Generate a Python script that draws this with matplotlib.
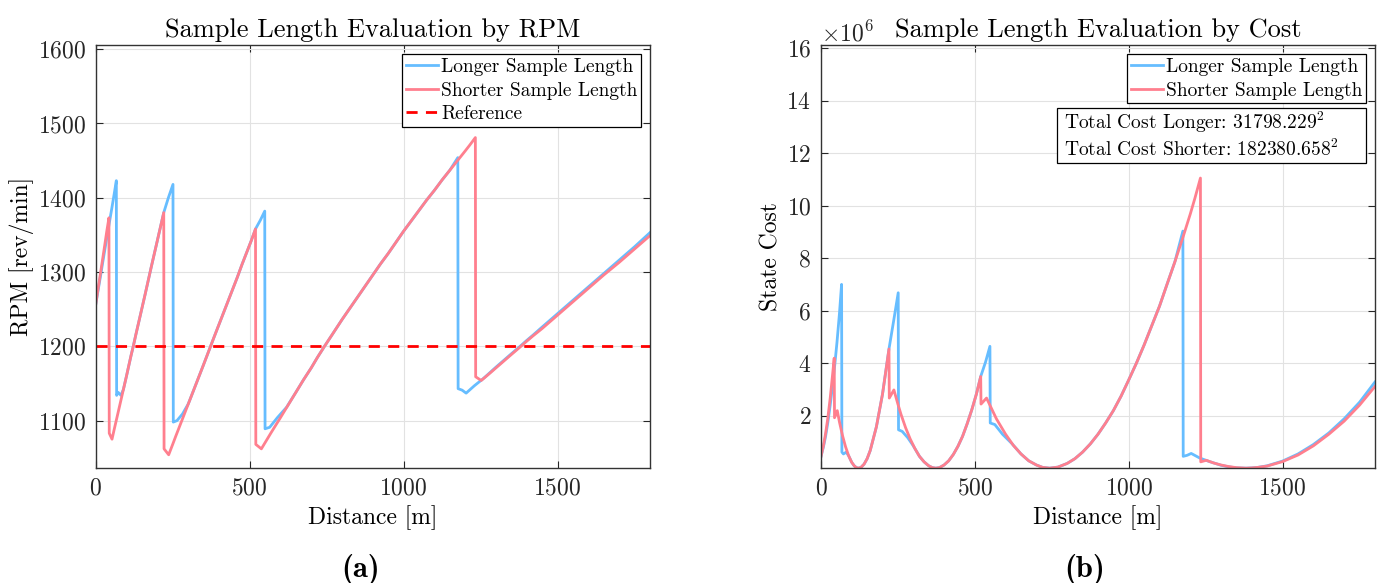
import numpy as np
import matplotlib
matplotlib.use("Agg")
import matplotlib.pyplot as plt
from matplotlib.ticker import ScalarFormatter
from matplotlib.patches import Rectangle

plt.rcParams['font.family'] = 'cmr10'
plt.rcParams['mathtext.fontset'] = 'cm'
plt.rcParams['axes.formatter.use_mathtext'] = True

# longer sample length: distance [m], rpm, state cost [x1e6]
dist_long = [0, 8, 15, 22, 30, 38, 45, 52, 60, 67,
             68, 73, 82, 90, 100, 108, 115, 122, 130, 140, 150, 160, 180, 200, 221, 236, 251,
             252, 264, 282, 300, 305, 320, 335, 350, 362, 373, 385, 400, 415, 430, 445, 460, 475, 490, 505, 519, 535, 549,
             550, 565, 590, 620, 650, 675, 700, 720, 743, 770, 800, 825, 850, 875, 900, 925, 950, 975,
             1000, 1025, 1050, 1075, 1100, 1125, 1150, 1176,
             1177, 1190, 1203, 1230, 1260, 1300, 1325, 1350, 1381, 1400, 1420, 1450, 1500, 1550, 1600, 1650, 1700, 1750, 1800]
rpm_long = [1256, 1276, 1293, 1311, 1331, 1351, 1368, 1385, 1405, 1423,
            1134, 1138, 1134, 1142, 1160, 1175, 1188, 1200, 1215, 1233, 1251, 1269, 1306, 1342, 1380, 1400, 1418,
            1098, 1100, 1109, 1122, 1127, 1143, 1159, 1175, 1188, 1200, 1213, 1229, 1245, 1261, 1277, 1293, 1310, 1326, 1342, 1358, 1370, 1382,
            1089, 1091, 1104, 1118, 1138, 1155, 1171, 1185, 1200, 1217, 1236, 1251, 1266, 1281, 1296, 1311, 1325, 1340,
            1355, 1369, 1383, 1397, 1410, 1424, 1437, 1454,
            1143, 1141, 1137, 1147, 1157, 1172, 1181, 1190, 1201, 1208, 1215, 1226, 1244, 1262, 1280, 1298, 1316, 1334, 1353]
cost_long = [0.44, 0.81, 1.21, 1.72, 2.40, 3.19, 3.95, 4.79, 5.88, 7.0,
             0.61, 0.54, 0.61, 0.47, 0.22, 0.09, 0.02, 0.0, 0.03, 0.15, 0.36, 0.67, 1.57, 2.82, 4.54, 5.60, 6.68,
             1.46, 1.40, 1.16, 0.85, 0.75, 0.45, 0.24, 0.09, 0.02, 0.0, 0.02, 0.12, 0.28, 0.52, 0.83, 1.21, 1.69, 2.22, 2.82, 3.49, 4.05, 4.64,
             1.72, 1.66, 1.29, 0.94, 0.54, 0.28, 0.12, 0.03, 0.0, 0.04, 0.18, 0.36, 0.61, 0.92, 1.29, 1.72, 2.19, 2.74,
             3.36, 4.00, 4.69, 5.43, 6.17, 7.02, 7.86, 9.03,
             0.45, 0.49, 0.56, 0.39, 0.26, 0.11, 0.05, 0.01, 0.0, 0.01, 0.03, 0.09, 0.27, 0.54, 0.90, 1.34, 1.88, 2.51, 3.28]

# shorter sample length
dist_short = [0, 8, 15, 22, 30, 36, 43,
              44, 53, 60, 70, 80, 90, 100, 108, 115, 122, 130, 140, 150, 160, 180, 200, 221,
              222, 237, 250, 260, 275, 290, 305, 320, 335, 350, 362, 373, 385, 400, 415, 430, 445, 460, 475, 490, 505, 519,
              520, 538, 570, 600, 625, 650, 675, 700, 720, 743, 770, 800, 825, 850, 875, 900, 925, 950, 975,
              1000, 1025, 1050, 1075, 1100, 1125, 1150, 1175, 1200, 1215, 1233,
              1234, 1252, 1275, 1300, 1325, 1350, 1381, 1400, 1420, 1450, 1500, 1550, 1600, 1650, 1700, 1750, 1800]
rpm_short = [1256, 1278, 1297, 1316, 1338, 1355, 1373,
             1083, 1075, 1088, 1106, 1124, 1142, 1160, 1175, 1188, 1200, 1215, 1233, 1251, 1269, 1306, 1342, 1380,
             1062, 1054, 1068, 1079, 1095, 1111, 1127, 1143, 1159, 1175, 1188, 1200, 1213, 1229, 1245, 1261, 1277, 1293, 1310, 1326, 1342, 1358,
             1068, 1062, 1084, 1104, 1121, 1138, 1155, 1171, 1185, 1200, 1217, 1236, 1251, 1266, 1281, 1296, 1311, 1325, 1340,
             1355, 1369, 1383, 1397, 1410, 1424, 1437, 1450, 1463, 1471, 1481,
             1159, 1154, 1162, 1171, 1180, 1189, 1200, 1207, 1214, 1224, 1242, 1260, 1278, 1296, 1313, 1331, 1349]
cost_short = [0.44, 0.85, 1.32, 1.88, 2.67, 3.36, 4.19,
              1.92, 2.19, 1.76, 1.24, 0.81, 0.47, 0.22, 0.09, 0.02, 0.0, 0.03, 0.15, 0.36, 0.67, 1.57, 2.82, 4.54,
              2.67, 2.98, 2.44, 2.05, 1.54, 1.11, 0.75, 0.45, 0.24, 0.09, 0.02, 0.0, 0.02, 0.12, 0.28, 0.52, 0.83, 1.21, 1.69, 2.22, 2.82, 3.49,
              2.44, 2.67, 1.88, 1.29, 0.87, 0.54, 0.28, 0.12, 0.03, 0.0, 0.04, 0.18, 0.36, 0.61, 0.92, 1.29, 1.72, 2.19, 2.74,
              3.36, 4.00, 4.69, 5.43, 6.17, 7.02, 7.86, 8.75, 9.68, 10.28, 11.05,
              0.24, 0.30, 0.20, 0.12, 0.06, 0.02, 0.0, 0.01, 0.03, 0.08, 0.25, 0.50, 0.85, 1.29, 1.79, 2.40, 3.11]

rpm_ref = 1200
total_cost_long = "31798.229"
total_cost_short = "182380.658"

blue = '#66BDFF'
pink = '#FF7F8E'
tick_fs = 17
label_fs = 17
title_fs = 19
legend_fs = 14


def style_axes(ax):
    ax.grid(True, color='#e2e2e2', linewidth=0.8)
    ax.set_axisbelow(True)
    ax.tick_params(direction='in', length=5, labelsize=tick_fs, top=True, right=True,
                   colors='#262626', pad=7)
    for s in ax.spines.values():
        s.set_color('#333333')
        s.set_linewidth(1.0)
    ax.set_xlim(0, 1800)
    ax.set_xticks([0, 500, 1000, 1500])


def add_legend(ax):
    leg = ax.legend(loc='upper right', fontsize=legend_fs, fancybox=False, framealpha=1,
                    edgecolor='black', handlelength=1.65, handletextpad=0.15,
                    borderpad=0.2, labelspacing=0.28, borderaxespad=0.45)
    leg.get_frame().set_linewidth(0.9)
    return leg


fig = plt.figure(figsize=(13.77, 5.83), dpi=100)

# (a) rpm
ax1 = fig.add_axes([0.0695, 0.197, 0.4025, 0.725])
ax1.plot(dist_long, rpm_long, color=blue, lw=2.0, label='Longer Sample Length')
ax1.plot(dist_short, rpm_short, color=pink, lw=2.0, label='Shorter Sample Length')
ax1.axhline(rpm_ref, color='red', lw=2.0, ls=(0, (4, 3)), label='Reference')
style_axes(ax1)
ax1.set_ylim(1036, 1605)
ax1.set_yticks([1100, 1200, 1300, 1400, 1500, 1600])
ax1.set_title('Sample Length Evaluation by RPM', fontsize=title_fs, pad=6)
ax1.set_xlabel('Distance [m]', fontsize=label_fs, labelpad=4)
ax1.set_ylabel('RPM [rev/min]', fontsize=label_fs, labelpad=3)
add_legend(ax1)

# (b) cost
ax2 = fig.add_axes([0.5962, 0.197, 0.4023, 0.725])
ax2.plot(dist_long, np.array(cost_long) * 1e6, color=blue, lw=2.0, label='Longer Sample Length')
ax2.plot(dist_short, np.array(cost_short) * 1e6, color=pink, lw=2.0, label='Shorter Sample Length')
style_axes(ax2)
ax2.set_ylim(0, 16.1e6)
ax2.set_yticks(np.arange(2, 17, 2) * 1e6)
fmt = ScalarFormatter(useMathText=True)
fmt.set_powerlimits((6, 6))
ax2.yaxis.set_major_formatter(fmt)
ax2.yaxis.get_offset_text().set_fontsize(17)
ax2.set_title('Sample Length Evaluation by Cost', fontsize=title_fs, pad=6)
ax2.set_xlabel('Distance [m]', fontsize=label_fs, labelpad=4)
ax2.set_ylabel('State Cost', fontsize=label_fs, labelpad=3)
add_legend(ax2)

# total cost annotation box
ax2.add_patch(Rectangle((0.426, 0.722), 0.558, 0.130, transform=ax2.transAxes,
                        facecolor='white', edgecolor='black', linewidth=0.9, zorder=5))
ax2.text(0.4386, 0.789,
         'Total Cost Longer: ' + total_cost_long + r'$^2$' + '\n' +
         'Total Cost Shorter: ' + total_cost_short + r'$^2$',
         transform=ax2.transAxes, ha='left', va='center', fontsize=legend_fs,
         linespacing=1.25, zorder=6)

fig.text(0.2615, 0.024, '(a)', fontsize=22, family='cmb10', ha='center', va='center')
fig.text(0.7875, 0.024, '(b)', fontsize=22, family='cmb10', ha='center', va='center')

fig.savefig('out.png', dpi=100)
